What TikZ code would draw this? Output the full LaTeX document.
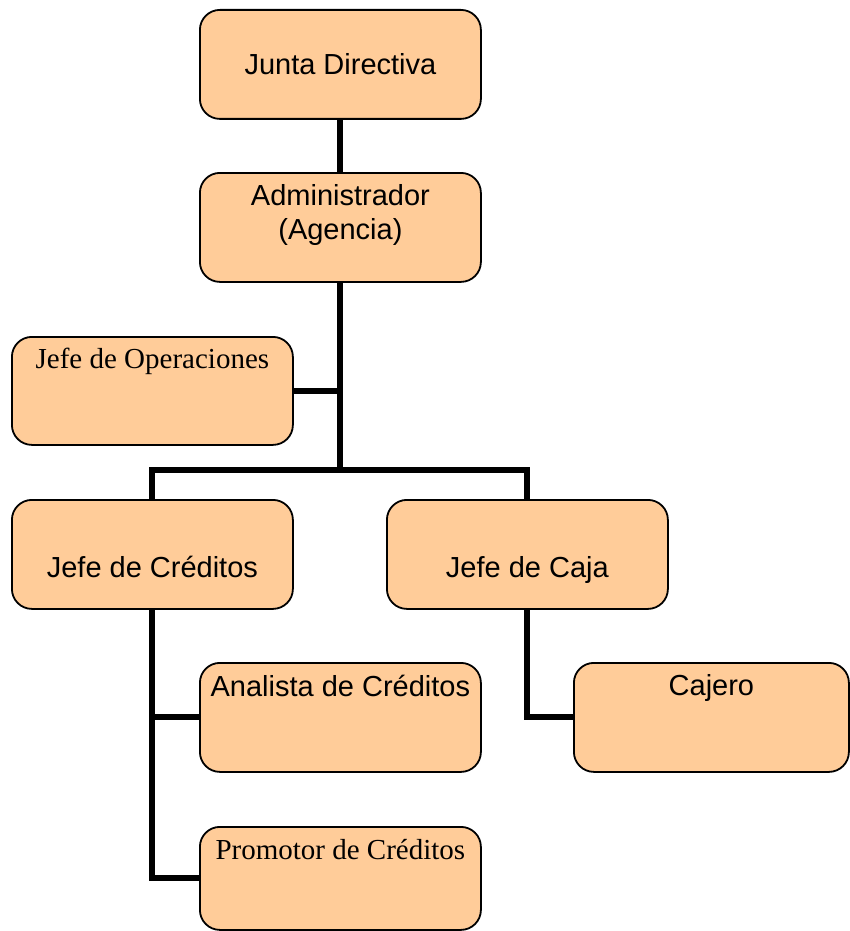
\documentclass[tikz,border=0pt]{standalone}
\usepackage{fontspec}
\setmainfont{Liberation Sans}
\newfontfamily\serifb{Liberation Serif}
\usetikzlibrary{backgrounds}
\definecolor{boxfill}{RGB}{255,204,153}
\begin{document}
\begin{tikzpicture}[x=1pt,y=-1pt,
  box/.style={draw=black, line width=1.8pt, fill=boxfill, rounded corners=20pt,
    minimum width=281pt, inner sep=0pt, anchor=north west,
    font=\fontsize{29}{34}\selectfont},
  conn/.style={line width=6pt, line join=miter, draw=black}]
\useasboundingbox (0,0) rectangle (849,931);
\node[box, text height=65pt, text depth=44pt] (jd) at (199,9) {Junta Directiva};
\node[box, text height=33pt, text depth=76pt] (adm) at (199,172)
  {\vtop{\halign{\hfil#\hfil\cr Administrador\cr (Agencia)\cr}}};
\node[box, text height=32pt, text depth=76pt] (ops) at (11,336) {\serifb Jefe de Operaciones};
\node[box, text height=78pt, text depth=31pt] (cred) at (11,499) {Jefe de Créditos};
\node[box, text height=78pt, text depth=31pt] (caja) at (386,499) {Jefe de Caja};
\node[box, text height=34pt, text depth=75pt] (ana) at (199,662) {Analista de Créditos};
\node[box, minimum width=275pt, text height=33pt, text depth=76pt] (caj) at (573,662) {Cajero};
\node[box, text height=33pt, text depth=70pt] (prom) at (199,826) {\serifb Promotor de Créditos};
\coordinate (bus) at (adm.south |- 0,470);
\begin{scope}[on background layer]
\draw[conn] (jd.south) -- (adm.north);
\draw[conn] (adm.south) -- (bus);
\draw[conn] (ops.east) -- (ops.east -| bus);
\draw[conn] (cred.north) |- (bus) -| (caja.north);
\draw[conn] (cred.south) |- (prom.west);
\draw[conn] (cred.south |- ana.west) -- (ana.west);
\draw[conn] (caja.south) |- (caj.west);
\end{scope}
\end{tikzpicture}
\end{document}
